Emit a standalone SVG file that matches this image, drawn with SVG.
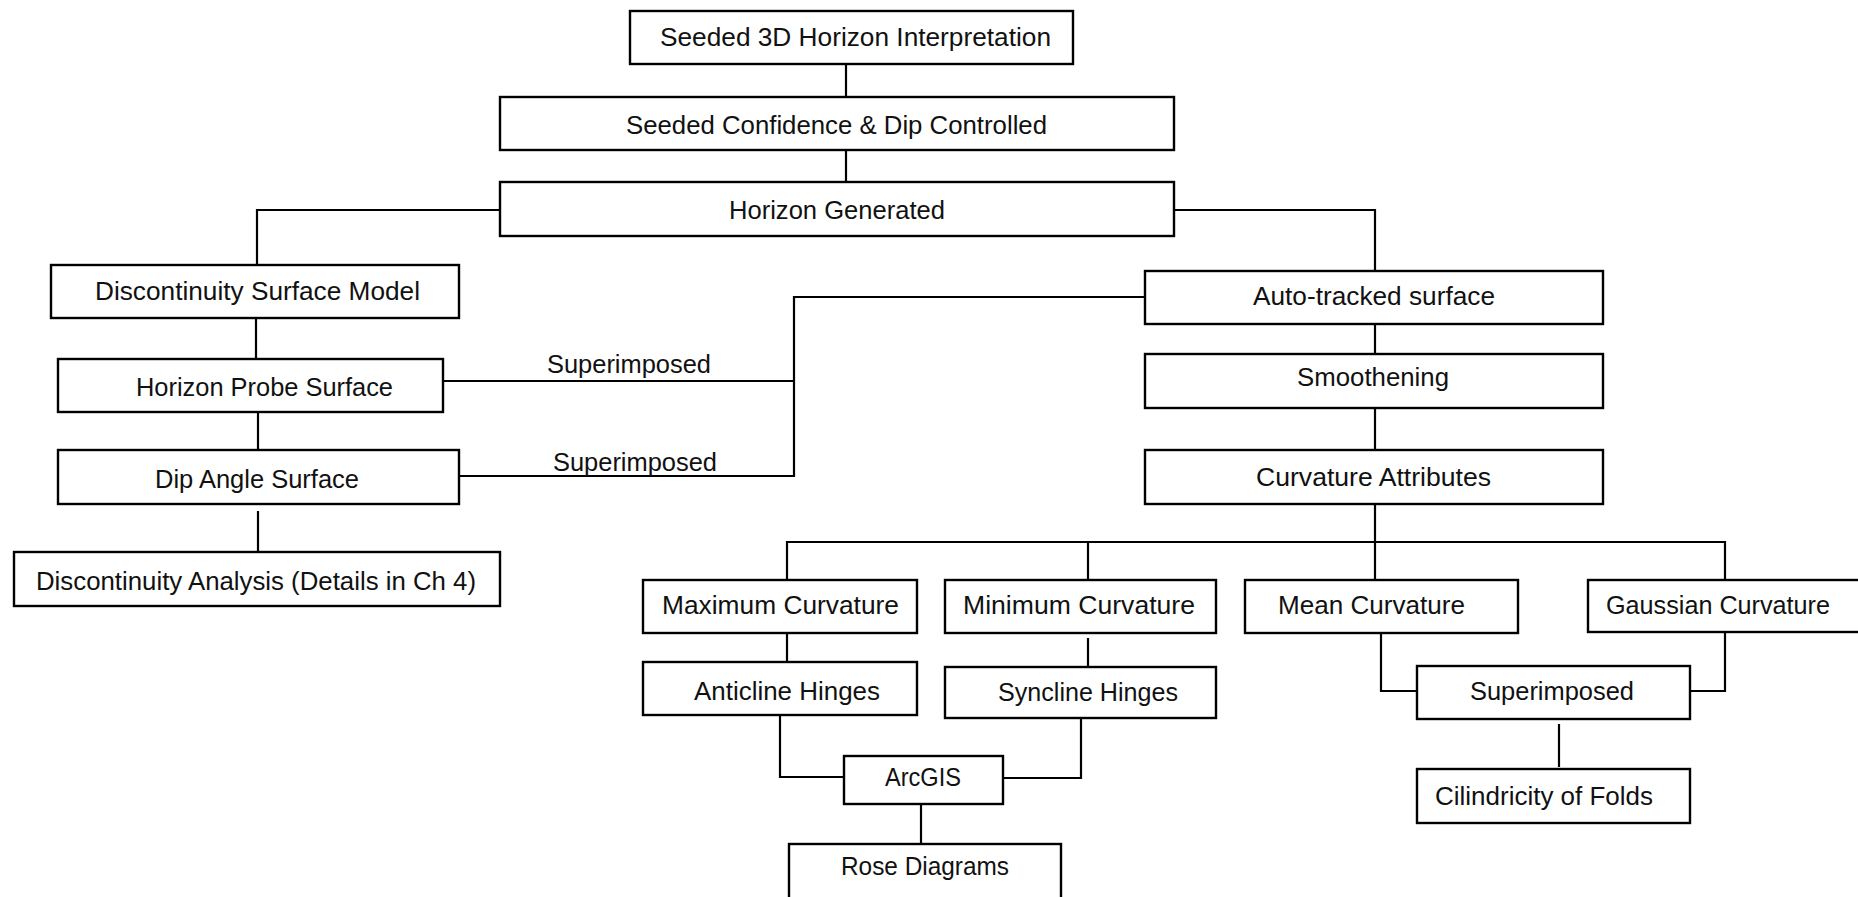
<svg xmlns="http://www.w3.org/2000/svg" width="1858" height="897" viewBox="0 0 1858 897">
<style>
.box{fill:#fff;stroke:#000;stroke-width:2.4}
.t{font-family:"Liberation Sans",Arial,sans-serif;font-size:25px;fill:#111}
.c{fill:none;stroke:#000;stroke-width:2.2}
</style>
<rect width="1858" height="897" fill="#fff"/>
<g id="connectors">
<path class="c" d="M846 64V97"/>
<path class="c" d="M846 150V182"/>
<path class="c" d="M500 210H257V265"/>
<path class="c" d="M1174 210H1375V271"/>
<path class="c" d="M256 318V359"/>
<path class="c" d="M258 412V450"/>
<path class="c" d="M258 511V552"/>
<path class="c" d="M443 381H794"/>
<path class="c" d="M459 476H794V297H1145"/>
<path class="c" d="M1375 324V354"/>
<path class="c" d="M1375 408V450"/>
<path class="c" d="M1375 504V580"/>
<path class="c" d="M787 580V542H1725V580"/>
<path class="c" d="M1088 542V580"/>
<path class="c" d="M787 633V662"/>
<path class="c" d="M1088 638V667"/>
<path class="c" d="M780 715V777H844"/>
<path class="c" d="M1081 718V778H1003"/>
<path class="c" d="M921 804V844"/>
<path class="c" d="M1381 633V691H1417"/>
<path class="c" d="M1725 632V691H1690"/>
<path class="c" d="M1559 724V767"/>
<text class="t" x="547" y="373" textLength="164" lengthAdjust="spacingAndGlyphs">Superimposed</text>
<text class="t" x="553" y="471" textLength="164" lengthAdjust="spacingAndGlyphs">Superimposed</text>
</g>
<g id="n1"><rect class="box" x="630" y="11" width="443" height="53"/><text class="t" x="660" y="46" textLength="391" lengthAdjust="spacingAndGlyphs">Seeded 3D Horizon Interpretation</text></g>
<g id="n2"><rect class="box" x="500" y="97" width="674" height="53"/><text class="t" x="626" y="134" textLength="421" lengthAdjust="spacingAndGlyphs">Seeded Confidence &amp; Dip Controlled</text></g>
<g id="n3"><rect class="box" x="500" y="182" width="674" height="54"/><text class="t" x="729" y="219" textLength="216" lengthAdjust="spacingAndGlyphs">Horizon Generated</text></g>
<g id="n4"><rect class="box" x="51" y="265" width="408" height="53"/><text class="t" x="95" y="300" textLength="325" lengthAdjust="spacingAndGlyphs">Discontinuity Surface Model</text></g>
<g id="n5"><rect class="box" x="58" y="359" width="385" height="53"/><text class="t" x="136" y="396" textLength="257" lengthAdjust="spacingAndGlyphs">Horizon Probe Surface</text></g>
<g id="n6"><rect class="box" x="58" y="450" width="401" height="54"/><text class="t" x="155" y="488" textLength="204" lengthAdjust="spacingAndGlyphs">Dip Angle Surface</text></g>
<g id="n7"><rect class="box" x="14" y="552" width="486" height="54"/><text class="t" x="36" y="590" textLength="440" lengthAdjust="spacingAndGlyphs">Discontinuity Analysis (Details in Ch 4)</text></g>
<g id="n8"><rect class="box" x="1145" y="271" width="458" height="53"/><text class="t" x="1253" y="305" textLength="242" lengthAdjust="spacingAndGlyphs">Auto-tracked surface</text></g>
<g id="n9"><rect class="box" x="1145" y="354" width="458" height="54"/><text class="t" x="1297" y="386" textLength="152" lengthAdjust="spacingAndGlyphs">Smoothening</text></g>
<g id="n10"><rect class="box" x="1145" y="450" width="458" height="54"/><text class="t" x="1256" y="486" textLength="235" lengthAdjust="spacingAndGlyphs">Curvature Attributes</text></g>
<g id="n11"><rect class="box" x="643" y="580" width="274" height="53"/><text class="t" x="662" y="614" textLength="237" lengthAdjust="spacingAndGlyphs">Maximum Curvature</text></g>
<g id="n12"><rect class="box" x="945" y="580" width="271" height="53"/><text class="t" x="963" y="614" textLength="232" lengthAdjust="spacingAndGlyphs">Minimum Curvature</text></g>
<g id="n13"><rect class="box" x="1245" y="580" width="273" height="53"/><text class="t" x="1278" y="614" textLength="187" lengthAdjust="spacingAndGlyphs">Mean Curvature</text></g>
<g id="n14"><rect class="box" x="1588" y="580" width="290" height="52"/><text class="t" x="1606" y="614" textLength="224" lengthAdjust="spacingAndGlyphs">Gaussian Curvature</text></g>
<g id="n15"><rect class="box" x="643" y="662" width="274" height="53"/><text class="t" x="694" y="700" textLength="186" lengthAdjust="spacingAndGlyphs">Anticline Hinges</text></g>
<g id="n16"><rect class="box" x="945" y="667" width="271" height="51"/><text class="t" x="998" y="701" textLength="180" lengthAdjust="spacingAndGlyphs">Syncline Hinges</text></g>
<g id="n17"><rect class="box" x="844" y="756" width="159" height="48"/><text class="t" x="885" y="786" textLength="76" lengthAdjust="spacingAndGlyphs">ArcGIS</text></g>
<g id="n18"><rect class="box" x="789" y="844" width="272" height="70"/><text class="t" x="841" y="875" textLength="168" lengthAdjust="spacingAndGlyphs">Rose Diagrams</text></g>
<g id="n19"><rect class="box" x="1417" y="666" width="273" height="53"/><text class="t" x="1470" y="700" textLength="164" lengthAdjust="spacingAndGlyphs">Superimposed</text></g>
<g id="n20"><rect class="box" x="1417" y="769" width="273" height="54"/><text class="t" x="1435" y="805" textLength="218" lengthAdjust="spacingAndGlyphs">Cilindricity of Folds</text></g>
</svg>
